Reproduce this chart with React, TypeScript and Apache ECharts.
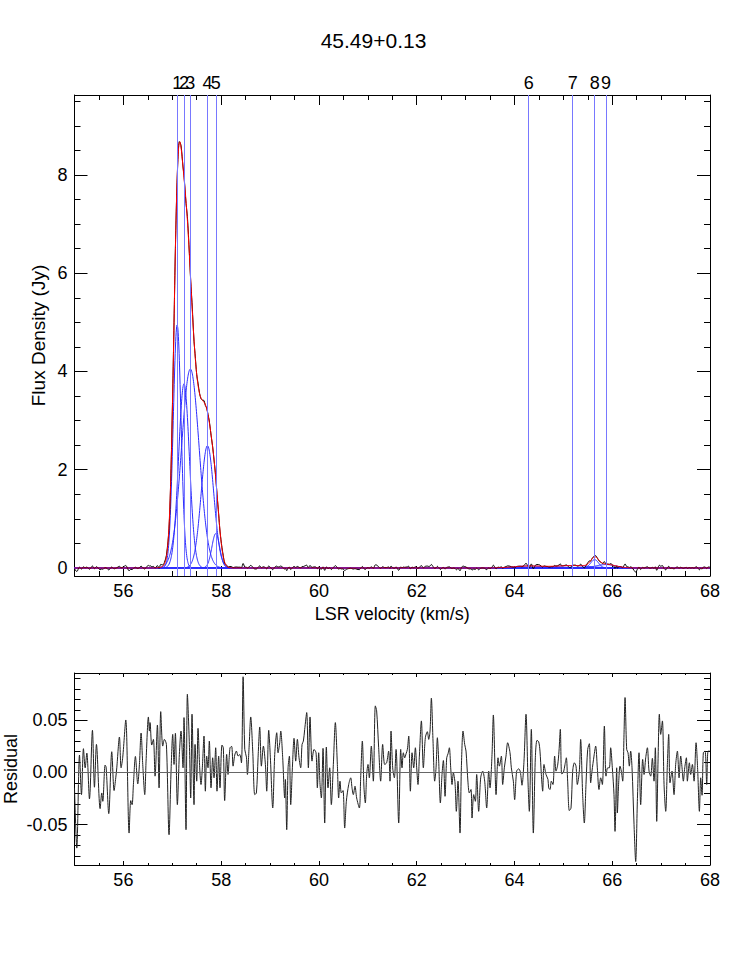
import React, { useEffect, useRef } from "react";
import * as echarts from "echarts";

const TITLE = "45.49+0.13";
const X_NAME = "LSR velocity (km/s)";
const Y_NAME = "Flux Density (Jy)";
const R_NAME = "Residual";

// Gaussian components (id, centre km/s, peak Jy, sigma km/s)
const compIds = ["1", "2", "3", "4", "5", "6", "7", "8", "9"];
const compCenters = [57.1, 57.24, 57.37, 57.72, 57.89, 64.29, 65.19, 65.64, 65.87];
const compAmps = [4.95, 3.75, 4.05, 2.49, 0.7, 0.04, 0.05, 0.17, 0.07];
const compSigmas = [0.08, 0.11, 0.18, 0.13, 0.08, 0.3, 0.35, 0.08, 0.2];

// axis ticks
const xTicks = [56, 58, 60, 62, 64, 66, 68];
const fluxTicks = [0, 2, 4, 6, 8];
const residTicks = [-0.05, 0, 0.05];

// residual (km/s, Jy)
const residual: [number, number][] = [
  [55.0, -0.0147], [55.047, -0.0724], [55.102, 0.0167], [55.143, -0.0212], [55.183, 0.0228], [55.218, 0.0045],
  [55.252, 0.0186], [55.306, -0.0253], [55.367, 0.0404], [55.408, -0.0141], [55.449, 0.0269], [55.524, -0.0346],
  [55.558, -0.0196], [55.579, -0.0276], [55.626, 0.0071], [55.647, 0.0051], [55.701, -0.0394], [55.762, 0.0199],
  [55.81, -0.0173], [55.844, -0.0051], [55.865, 0.0045], [55.919, 0.034], [55.953, 0.0045], [55.987, 0.0147],
  [56.049, 0.0503], [56.117, -0.058], [56.151, -0.0269], [56.178, -0.0308], [56.205, -0.0115], [56.246, 0.0154],
  [56.294, -0.0109], [56.328, 0.0077], [56.362, 0.0378], [56.396, 0.0077], [56.437, -0.0212], [56.464, 0.0109],
  [56.512, 0.0532], [56.532, 0.0397], [56.546, 0.0478], [56.58, 0.0263], [56.614, 0.0317], [56.648, -0.0035],
  [56.696, 0.0455], [56.73, -0.0147], [56.764, 0.0583], [56.805, 0.0253], [56.839, 0.0317], [56.88, 0.0269],
  [56.934, -0.0596], [56.975, 0.0013], [57.009, 0.0365], [57.036, 0.0077], [57.064, 0.0375], [57.104, -0.0308],
  [57.145, 0.0173], [57.179, 0.0397], [57.22, 0.0045], [57.24, 0.0526], [57.281, -0.0548], [57.309, 0.075],
  [57.35, 0.0269], [57.377, -0.0244], [57.404, 0.0558], [57.445, -0.0308], [57.466, 0.0269], [57.5, -0.0083],
  [57.527, 0.0423], [57.561, 0.0045], [57.588, -0.0115], [57.615, 0.0045], [57.649, 0.0349], [57.677, -0.0179],
  [57.704, 0.0157], [57.731, 0.0045], [57.758, 0.0301], [57.793, -0.0147], [57.827, 0.0141], [57.854, -0.0051],
  [57.888, 0.0237], [57.915, -0.0179], [57.949, 0.0157], [57.976, -0.0147], [58.017, 0.0263], [58.044, 0.0237],
  [58.072, -0.0269], [58.113, 0.0173], [58.14, -0.0019], [58.181, 0.0237], [58.215, 0.025], [58.244, 0.0061],
  [58.278, 0.0167], [58.312, 0.0205], [58.346, 0.0157], [58.38, 0.0173], [58.415, 0.0093], [58.449, 0.0917],
  [58.483, 0.0221], [58.517, 0.0147], [58.537, -0.0019], [58.571, 0.0237], [58.605, 0.0532], [58.646, 0.0205],
  [58.687, -0.0212], [58.721, -0.0196], [58.755, 0.0141], [58.789, 0.0436], [58.823, 0.0061], [58.864, 0.0253],
  [58.905, 0.0077], [58.932, -0.0179], [58.973, 0.0404], [59.007, 0.0141], [59.055, -0.034], [59.096, 0.0173],
  [59.137, 0.0381], [59.164, 0.0189], [59.198, 0.0285], [59.219, 0.0397], [59.259, 0.0141], [59.3, -0.0244],
  [59.314, -0.0067], [59.341, -0.0548], [59.369, 0.0045], [59.396, 0.0157], [59.423, -0.0308], [59.457, 0.0045],
  [59.491, 0.0327], [59.525, 0.0109], [59.559, 0.0317], [59.593, 0.0141], [59.627, 0.0045], [59.655, 0.0269],
  [59.682, 0.0301], [59.709, 0.0413], [59.75, 0.0574], [59.784, 0.0045], [59.818, 0.0532], [59.859, 0.0109],
  [59.9, 0.0221], [59.941, 0.0189], [59.968, -0.0147], [59.995, 0.0189], [60.023, -0.0115], [60.05, -0.0244],
  [60.084, 0.0231], [60.118, -0.0484], [60.152, 0.0244], [60.186, -0.0147], [60.22, 0.0045], [60.254, -0.0308],
  [60.295, 0.0077], [60.336, 0.0478], [60.377, 0.0077], [60.404, -0.0244], [60.431, -0.0083], [60.459, -0.0196],
  [60.493, -0.0173], [60.527, -0.0532], [60.561, -0.0276], [60.609, -0.0115], [60.65, -0.0051], [60.677, -0.0147],
  [60.704, -0.0212], [60.738, -0.0131], [60.772, -0.0244], [60.827, -0.034], [60.854, -0.0051], [60.888, 0.0301],
  [60.922, -0.0147], [60.949, -0.0292], [60.977, -0.0019], [61.004, 0.0077], [61.031, -0.0051], [61.072, 0.0253],
  [61.113, -0.0083], [61.154, 0.0638], [61.181, 0.059], [61.222, 0.0237], [61.263, -0.0083], [61.304, 0.0269],
  [61.345, 0.0077], [61.385, 0.0093], [61.426, 0.0205], [61.454, -0.0083], [61.475, 0.0397], [61.509, 0.0045],
  [61.543, -0.0051], [61.578, 0.0221], [61.632, -0.0484], [61.673, 0.0221], [61.7, 0.0045], [61.727, 0.0189],
  [61.755, 0.0141], [61.782, 0.0179], [61.809, 0.0221], [61.837, 0.0349], [61.871, -0.0179], [61.905, 0.0189],
  [61.939, 0.0045], [61.973, 0.0237], [62.0, 0.0045], [62.027, -0.0115], [62.055, 0.0157], [62.096, 0.0494],
  [62.136, 0.0045], [62.177, 0.0333], [62.218, 0.0391], [62.246, 0.0317], [62.273, 0.0397], [62.3, 0.0712],
  [62.334, 0.0301], [62.368, -0.0083], [62.396, 0.0045], [62.423, 0.0333], [62.45, 0.0109], [62.484, -0.0292],
  [62.518, -0.0019], [62.546, 0.0115], [62.58, -0.0228], [62.614, 0.0141], [62.641, 0.0179], [62.668, 0.0237],
  [62.696, 0.0045], [62.723, -0.0115], [62.75, -0.0003], [62.784, -0.0099], [62.811, -0.0372], [62.845, -0.0083],
  [62.886, -0.058], [62.914, 0.0045], [62.948, 0.0397], [62.982, 0.0269], [63.009, 0.0205], [63.05, -0.0099],
  [63.077, -0.0196], [63.111, -0.0163], [63.132, -0.0436], [63.166, -0.0212], [63.2, -0.0276], [63.227, -0.0019],
  [63.268, -0.0372], [63.309, -0.0051], [63.35, 0.0013], [63.391, -0.0083], [63.432, -0.034], [63.473, 0.0013],
  [63.5, -0.0147], [63.541, 0.0173], [63.568, 0.0551], [63.602, 0.0045], [63.623, -0.0212], [63.664, 0.0141],
  [63.691, 0.0061], [63.732, 0.0157], [63.759, -0.0115], [63.793, 0.0045], [63.827, 0.0157], [63.861, 0.0285],
  [63.909, 0.0189], [63.936, 0.0045], [63.977, -0.0083], [64.004, -0.026], [64.045, 0.0013], [64.086, 0.0035],
  [64.12, 0.0006], [64.154, -0.0122], [64.195, 0.0109], [64.236, 0.0558], [64.277, -0.0083], [64.304, -0.0372],
  [64.345, 0.0413], [64.386, -0.058], [64.427, 0.0141], [64.461, 0.0308], [64.495, 0.0295], [64.522, 0.0205],
  [64.55, -0.0019], [64.577, -0.0179], [64.604, 0.0077], [64.645, -0.0019], [64.686, -0.0067], [64.7, -0.0147],
  [64.727, -0.0163], [64.754, -0.0083], [64.788, -0.0115], [64.822, 0.0157], [64.85, 0.0013], [64.884, 0.0071],
  [64.911, 0.0205], [64.938, 0.0413], [64.966, -0.0013], [65.0, -0.0003], [65.034, 0.0077], [65.061, 0.0141],
  [65.088, -0.0083], [65.122, -0.0365], [65.157, -0.034], [65.191, 0.0013], [65.225, 0.0093], [65.259, 0.0061],
  [65.286, -0.0115], [65.327, 0.0013], [65.354, 0.0317], [65.395, -0.0212], [65.429, -0.0484], [65.463, -0.0115],
  [65.498, 0.0221], [65.532, 0.0276], [65.559, -0.0099], [65.586, 0.0013], [65.627, 0.0157], [65.661, 0.0253],
  [65.695, 0.0045], [65.729, -0.0163], [65.764, -0.0051], [65.798, -0.0115], [65.839, 0.0445], [65.873, -0.0035],
  [65.907, 0.0045], [65.941, 0.0045], [65.968, 0.0237], [66.002, 0.0045], [66.036, -0.0212], [66.057, -0.0564],
  [66.091, 0.0045], [66.105, -0.0388], [66.132, -0.0099], [66.159, 0.0061], [66.186, 0.0013], [66.214, -0.0083],
  [66.241, 0.0365], [66.262, 0.0718], [66.296, 0.0221], [66.323, 0.0189], [66.35, 0.0061], [66.377, 0.0205],
  [66.405, 0.0045], [66.446, -0.05], [66.48, -0.0853], [66.514, -0.0276], [66.548, 0.0189], [66.582, -0.0308],
  [66.623, 0.0125], [66.651, -0.0019], [66.685, 0.0141], [66.719, 0.0237], [66.753, 0.0013], [66.787, -0.0035],
  [66.821, 0.0135], [66.855, -0.0083], [66.882, 0.0237], [66.91, -0.0468], [66.937, 0.0109], [66.964, 0.0558],
  [66.991, 0.0365], [67.026, 0.0494], [67.06, -0.0115], [67.094, -0.0372], [67.128, 0.0077], [67.155, 0.0365],
  [67.182, -0.0099], [67.223, 0.0013], [67.264, -0.0212], [67.298, 0.0077], [67.333, 0.0205], [67.367, -0.0051],
  [67.401, 0.0157], [67.428, 0.0045], [67.455, -0.0083], [67.483, 0.0045], [67.517, 0.0141], [67.537, -0.0083],
  [67.578, 0.0093], [67.605, -0.0019], [67.64, 0.0077], [67.674, -0.0083], [67.715, 0.0285], [67.749, 0.0013],
  [67.783, -0.0372], [67.81, -0.0051], [67.837, -0.0218], [67.864, 0.0189], [67.899, 0.0205], [67.933, -0.0115],
  [67.96, 0.0205], [67.995, 0.0205],
];

const FONT = "'Liberation Sans', Arial, Helvetica, sans-serif";
const X_MIN = 55;
const X_MAX = 68;

function gauss(v: number, c: number, a: number, s: number) {
  return a * Math.exp(-((v - c) * (v - c)) / (2 * s * s));
}
function modelAt(v: number) {
  let s = 0;
  for (let i = 0; i < compCenters.length; i++) s += gauss(v, compCenters[i], compAmps[i], compSigmas[i]);
  return s;
}
function steps(from: number, to: number, step: number) {
  const out: number[] = [];
  const n = Math.round((to - from) / step);
  for (let k = 0; k <= n; k++) out.push(+(from + k * step).toFixed(4));
  return out;
}

export default function App() {
  const ref = useRef<HTMLDivElement>(null);
  useEffect(() => {
    if (!ref.current) return;
    const chart = echarts.init(ref.current, null, { renderer: "svg" });

    const velGrid = steps(X_MIN, X_MAX, 0.005);
    const xMinor = steps(55, 68, 0.5);
    const fluxMinor = steps(0, 9.5, 0.5);
    const residMinor = steps(-0.08, 0.09, 0.01);

    const black = "#000";
    const lbl = { fontFamily: FONT, fontSize: 18, color: black };

    const xAx = (grid: number, pos: string, ticks: number[], len: number, showLine: boolean, labels: boolean, extra: any = {}) => ({
      type: "value",
      gridIndex: grid,
      position: pos,
      min: X_MIN,
      max: X_MAX,
      splitLine: { show: false },
      axisLine: { show: showLine, onZero: false, lineStyle: { color: black, width: 1 } },
      axisTick: { show: true, inside: true, length: len, customValues: ticks, lineStyle: { color: black, width: 1 } },
      axisLabel: labels ? { show: true, customValues: ticks, margin: 6, ...lbl } : { show: false },
      ...extra,
    });
    const yAx = (grid: number, pos: string, min: number, max: number, ticks: number[], len: number, showLine: boolean, labels: boolean, fmt: any, extra: any = {}) => ({
      type: "value",
      gridIndex: grid,
      position: pos,
      min,
      max,
      splitLine: { show: false },
      axisLine: { show: showLine, onZero: false, lineStyle: { color: black, width: 1 } },
      axisTick: { show: true, inside: true, length: len, customValues: ticks, lineStyle: { color: black, width: 1 } },
      axisLabel: labels ? { show: true, customValues: ticks, margin: 7, formatter: fmt, ...lbl } : { show: false },
      ...extra,
    });

    const Y0MIN = -0.163, Y0MAX = 9.628;
    const Y1MIN = -0.0886, Y1MAX = 0.0953;

    const xAxis = [
      xAx(0, "bottom", xTicks, 10, true, true, {
        name: X_NAME, nameLocation: "middle", nameGap: 26,
        nameTextStyle: { fontFamily: FONT, fontSize: 18, color: black },
      }),
      xAx(0, "bottom", xMinor, 5, false, false),
      xAx(0, "top", xTicks, 10, true, false),
      xAx(0, "top", xMinor, 5, false, false),
      xAx(1, "bottom", xTicks, 4, true, true),
      xAx(1, "bottom", xMinor, 2, false, false),
      xAx(1, "top", xTicks, 4, true, false),
      xAx(1, "top", xMinor, 2, false, false),
    ];

    const yAxis = [
      yAx(0, "left", Y0MIN, Y0MAX, fluxTicks, 13, true, true, (v: number) => String(v), {
        name: Y_NAME, nameLocation: "middle", nameGap: 27, nameMoveOverlap: false,
        nameTextStyle: { fontFamily: FONT, fontSize: 19, color: black },
      }),
      yAx(0, "left", Y0MIN, Y0MAX, fluxMinor, 6, false, false, null),
      yAx(0, "right", Y0MIN, Y0MAX, fluxTicks, 13, true, false, null),
      yAx(0, "right", Y0MIN, Y0MAX, fluxMinor, 6, false, false, null),
      yAx(1, "left", Y1MIN, Y1MAX, residTicks, 13, true, true, (v: number) => v.toFixed(2), {
        name: R_NAME, nameLocation: "middle", nameGap: 55, nameMoveOverlap: false,
        nameTextStyle: { fontFamily: FONT, fontSize: 18, color: black },
      }),
      yAx(1, "left", Y1MIN, Y1MAX, residMinor, 6, false, false, null),
      yAx(1, "right", Y1MIN, Y1MAX, residTicks, 13, true, false, null),
      yAx(1, "right", Y1MIN, Y1MAX, residMinor, 6, false, false, null),
    ];

    const compSeries = compCenters.map((c, i) => ({
      type: "line",
      name: "comp" + compIds[i],
      xAxisIndex: 0,
      yAxisIndex: 0,
      showSymbol: false,
      symbol: "none",
      silent: true,
      z: 2,
      lineStyle: { color: "#2b2bff", width: 1 },
      data: velGrid.map((v) => [v, gauss(v, c, compAmps[i], compSigmas[i])]),
      ...(i === 0
        ? {
            markLine: {
              silent: true,
              symbol: ["none", "none"],
              label: {
                show: true,
                position: "end",
                distance: 3,
                formatter: (p: any) => p.name,
                ...lbl,
              },
              lineStyle: { color: "#7878ff", width: 1, type: "solid" },
              data: compCenters.map((cc, k) => ({ xAxis: cc, name: compIds[k] })),
            },
          }
        : {}),
    }));

    const option: any = {
      animation: false,
      backgroundColor: "#fff",
      textStyle: { fontFamily: FONT },
      title: {
        text: TITLE,
        left: "center",
        top: 30,
        padding: 0,
        textStyle: { fontFamily: FONT, fontSize: 21, fontWeight: "normal", color: black },
      },
      grid: [
        { left: 74.5, top: 95, width: 635.5, height: 481, containLabel: false, outerBoundsMode: "none" },
        { left: 74.5, top: 673, width: 635.5, height: 192, containLabel: false, outerBoundsMode: "none" },
      ],
      xAxis,
      yAxis,
      series: [
        ...compSeries,
        {
          type: "line",
          name: "observed",
          xAxisIndex: 0,
          yAxisIndex: 0,
          showSymbol: false,
          symbol: "none",
          silent: true,
          smooth: 0.3,
          z: 3,
          lineStyle: { color: "#000", width: 1 },
          data: residual.map(([v, r]) => [v, modelAt(v) + r]),
        },
        {
          type: "line",
          name: "model",
          xAxisIndex: 0,
          yAxisIndex: 0,
          showSymbol: false,
          symbol: "none",
          silent: true,
          z: 4,
          lineStyle: { color: "#ff0000", width: 1 },
          data: velGrid.map((v) => [v, modelAt(v)]),
        },
        {
          type: "line",
          name: "residual",
          xAxisIndex: 4,
          yAxisIndex: 4,
          showSymbol: false,
          symbol: "none",
          silent: true,
          smooth: 0.3,
          z: 3,
          lineStyle: { color: "#222", width: 1 },
          data: residual,
          markLine: {
            silent: true,
            symbol: ["none", "none"],
            label: { show: false },
            lineStyle: { color: "#666", width: 1, type: "solid" },
            data: [{ yAxis: 0 }],
          },
        },
      ],
    };
    chart.setOption(option);
    return () => chart.dispose();
  }, []);

  return (
    <div
      ref={ref}
      style={{ position: "absolute", left: 0, top: 0, width: 747, height: 961, background: "#fff" }}
    />
  );
}
